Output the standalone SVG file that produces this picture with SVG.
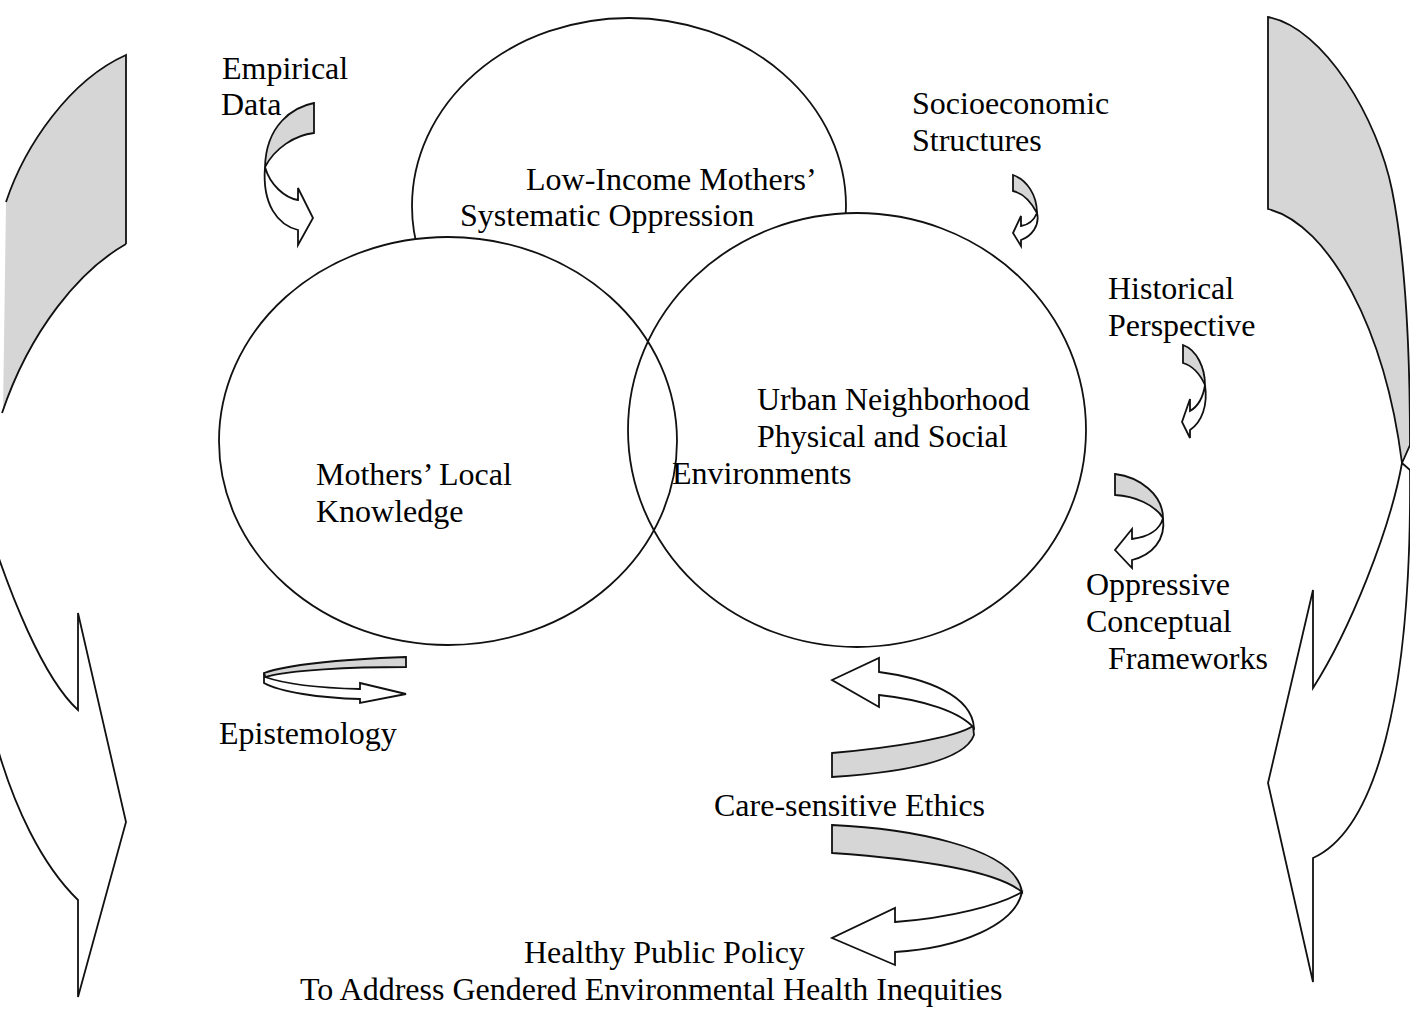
<svg xmlns="http://www.w3.org/2000/svg" width="1410" height="1010" viewBox="0 0 1410 1010">
<style>
text{font-family:"Liberation Serif","Times New Roman",serif;font-size:32px;fill:#000}
.c{fill:#fff;stroke:#111;stroke-width:1.8}
.cs{fill:none;stroke:#111;stroke-width:1.8}
.g{fill:#d6d6d6;stroke:#111;stroke-width:1.8;stroke-linejoin:miter}
.w{fill:#fff;stroke:#111;stroke-width:1.8;stroke-linejoin:miter}
.gf{fill:#d6d6d6;stroke:none}
</style>
<rect width="1410" height="1010" fill="#fff"/>
<g id="oppression">
<ellipse class="c" cx="629" cy="206" rx="217" ry="188"/>
</g>
<g id="circle-fills">
<ellipse fill="#fff" cx="448" cy="441" rx="229" ry="204"/>
<ellipse fill="#fff" cx="857" cy="430" rx="229" ry="217"/>
</g>
<g id="knowledge">
<ellipse class="cs" cx="448" cy="441" rx="229" ry="204"/>
</g>
<g id="environments">
<ellipse class="cs" cx="857" cy="430" rx="229" ry="217"/>
</g>
<g id="connectors">
<!-- left big arrow -->
<path class="gf" d="M126,55 C70,80 25,145 6,202 L3,413 C30,330 80,270 126,244 Z"/>
<path class="cs" d="M126,244 L126,55 C70,80 25,145 6,202"/>
<path class="cs" d="M126,244 C80,270 30,330 2,413"/>
<path class="w" d="M-20,500 C10,600 45,680 78,710 L78,613 L126,822 L78,997 L78,900 C45,868 12,810 -10,720 Z"/>
<!-- right big arrow -->
<path class="g" d="M1268,17 C1325,28 1378,120 1392,190 C1402,240 1410,320 1410,445 L1402,463 C1385,330 1330,225 1268,209 Z"/>
<path class="w" d="M1402,463 C1390,530 1350,630 1313,688 L1313,590 L1268,783 L1313,982 L1313,858 C1375,830 1412,700 1410,470 Z"/>
<!-- empirical data arrow -->
<path class="g" d="M314,103 C293,107 266,125 265,167 C275,148 295,135 314,133 Z"/>
<path class="w" d="M265,167 C270,185 285,198 298,200 L298,188 L313,218 L298,245 L298,230 C278,225 262,205 265,167 Z"/>
<!-- socioeconomic arrow -->
<path class="g" d="M1013,175 C1027,180 1037,195 1037,213 C1030,200 1022,193 1013,191 Z"/>
<path class="w" d="M1037,213 C1034,220 1028,225 1021,226 L1021,216 L1013,233 L1021,246 L1021,240 C1032,236 1040,225 1037,213 Z"/>
<!-- historical arrow -->
<path class="g" d="M1183,345 C1197,350 1205,368 1205,385 C1200,374 1193,366 1183,363 Z"/>
<path class="w" d="M1205,385 C1203,398 1197,407 1190,411 L1190,399 L1182,422 L1190,438 L1190,430 C1202,422 1208,405 1205,385 Z"/>
<!-- oppressive arrow -->
<path class="g" d="M1115,474 C1140,477 1163,495 1163,518 C1155,505 1135,496 1115,495 Z"/>
<path class="w" d="M1163,518 C1160,530 1148,537 1132,539 L1132,529 L1115,550 L1132,568 L1132,560 C1152,555 1166,540 1163,518 Z"/>
<!-- epistemology arrow -->
<path class="g" d="M406,657 C350,659 290,664 264,673 L265,677 C290,670 350,667 406,667 Z"/>
<path class="w" d="M264,673 L264,683 C280,692 320,698 360,699 L360,703 L406,694 L360,683 L360,689 C320,688 285,684 265,677 Z"/>
<!-- care-sensitive top arrow -->
<path class="g" d="M832,753 C890,748 955,738 973,726 L974,735 C965,760 910,772 832,777 Z"/>
<path class="w" d="M879,672 C925,678 972,695 974,728 C960,712 925,700 879,695 L879,707 L832,680 L879,658 Z"/>
<!-- care-sensitive bottom arrow -->
<path class="g" d="M832,825 C900,828 1015,845 1022,892 C1005,878 960,862 832,853 Z"/>
<path class="w" d="M1022,892 C1015,925 960,948 895,952 L895,965 L832,938 L895,908 L895,922 C950,918 1000,905 1022,892 Z"/>
</g>
<g id="labels">
<text x="222" y="79">Empirical</text>
<text x="221" y="115">Data</text>
<text x="526" y="190">Low-Income Mothers’</text>
<text x="460" y="226">Systematic Oppression</text>
<text x="912" y="114">Socioeconomic</text>
<text x="912" y="151">Structures</text>
<text x="1108" y="299">Historical</text>
<text x="1108" y="336">Perspective</text>
<text x="757" y="410">Urban Neighborhood</text>
<text x="757" y="447">Physical and Social</text>
<text x="672" y="484">Environments</text>
<text x="316" y="485">Mothers’ Local</text>
<text x="316" y="522">Knowledge</text>
<text x="1086" y="595">Oppressive</text>
<text x="1086" y="632">Conceptual</text>
<text x="1108" y="669">Frameworks</text>
<text x="219" y="744">Epistemology</text>
<text x="714" y="816">Care-sensitive Ethics</text>
<text x="524" y="963">Healthy Public Policy</text>
<text x="300" y="1000">To Address Gendered Environmental Health Inequities</text>
</g>
</svg>
